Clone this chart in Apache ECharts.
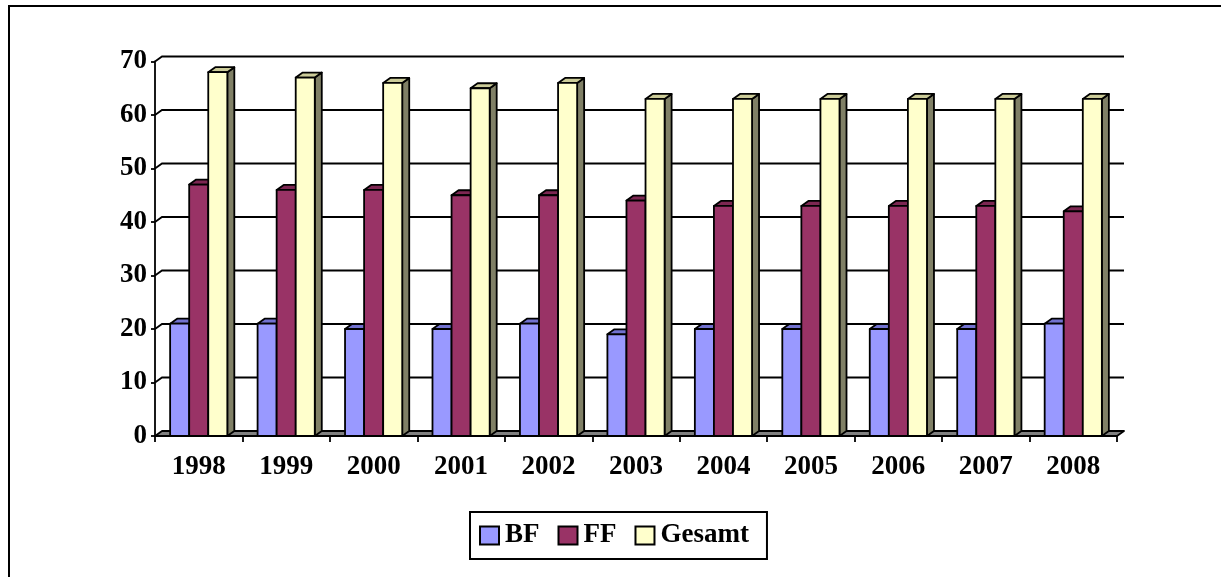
<!DOCTYPE html>
<html>
<head>
<meta charset="utf-8">
<script src="https://cdn.jsdelivr.net/npm/echarts@6/dist/echarts.min.js"></script>
<style>
html,body{margin:0;padding:0;background:#fff;}
#c{width:1221px;height:577px;}
</style>
</head>
<body>
<div id="c"></div>
<script>
const categories = ['1998','1999','2000','2001','2002','2003','2004','2005','2006','2007','2008'];
const bf = [21,21,20,20,21,19,20,20,20,20,21];
const ff = [47,46,46,45,45,44,43,43,43,43,42];
const gesamt = [68,67,66,65,66,63,63,63,63,63,63];
const yTicks = [0,10,20,30,40,50,60,70];

const FONT = 'Liberation Serif';
const DX = 7, DY = -5;
const LW = 1.8;

const seriesDefs = [
  {name:'BF', data:bf, color:'#9999ff', top:'#7272d0', side:'#5f5fb0', k:-1},
  {name:'FF', data:ff, color:'#993366', top:'#7d2752', side:'#6a1f45', k:0},
  {name:'Gesamt', data:gesamt, color:'#ffffcc', top:'#cccc99', side:'#808066', k:1}
];

function barRender(def){
  return function(params, api){
    const idx = params.dataIndex;
    const v = api.value(1);
    const c = api.coord([idx, v]);
    const b = api.coord([idx, 0]);
    const catW = api.size([1,0])[0];
    const w = catW*0.218;
    const xc = c[0] + def.k*w;
    const x0 = xc - w/2, x1 = xc + w/2;
    const yt = c[1], yb = b[1];
    const st = {stroke:'#000', lineWidth:LW, lineJoin:'round'};
    return {type:'group', children:[
      {type:'polygon', shape:{points:[[x1,yt],[x1+DX,yt+DY],[x1+DX,yb+DY],[x1,yb]]}, style:Object.assign({fill:def.side}, st)},
      {type:'polygon', shape:{points:[[x0,yt],[x0+DX,yt+DY],[x1+DX,yt+DY],[x1,yt]]}, style:Object.assign({fill:def.top}, st)},
      {type:'rect', shape:{x:x0, y:yt, width:w, height:yb-yt}, style:Object.assign({fill:def.color}, st)}
    ]};
  };
}

function gridRender(params, api){
  const v = api.value(1);
  const p = api.coord([0, v]);
  const cs = params.coordSys;
  const x0 = cs.x, x1 = cs.x + cs.width;
  const y = p[1];
  if (v === 0) {
    return {type:'polygon', shape:{points:[[x0,y],[x0+DX,y+DY],[x1+DX,y+DY],[x1,y]]},
      style:{fill:'#808080', stroke:'#000', lineWidth:LW, lineJoin:'round'}};
  }
  return {type:'polyline', shape:{points:[[x0,y],[x0+DX,y+DY],[x1+DX,y+DY]]},
    style:{fill:null, stroke:'#000', lineWidth:LW}};
}

const chart = echarts.init(document.getElementById('c'), null, {renderer:'canvas'});
const series = [{
  type:'custom', name:'grid', silent:true, z:1,
  data: yTicks.map(v => [0, v]),
  encode:{x:0, y:1},
  renderItem: gridRender
}];
seriesDefs.forEach((d, i) => {
  series.push({
    type:'custom', name:d.name, z:2+i,
    data: d.data.map((v, j) => [j, v]),
    encode:{x:0, y:1},
    itemStyle:{color:d.color, borderColor:'#000', borderWidth:2},
    renderItem: barRender(d)
  });
});

chart.setOption({
  animation:false,
  graphic:[{type:'rect', shape:{x:9, y:6, width:1300, height:700}, style:{fill:null, stroke:'#000', lineWidth:2}, z:100}],
  grid:{left:155, right:104, top:61.5, bottom:141, containLabel:false},
  legend:{
    data:['BF','FF','Gesamt'],
    left:470, top:512,
    padding:[10,18,10,9],
    itemGap:18, itemWidth:19, itemHeight:18,
    icon:'rect',
    borderColor:'#000', borderWidth:2,
    itemStyle:{borderColor:'#000', borderWidth:2},
    textStyle:{fontFamily:FONT, fontWeight:'bold', fontSize:27, color:'#000', padding:[0,0,0,1]},
    selectedMode:false
  },
  xAxis:{
    type:'category', data:categories, boundaryGap:true,
    axisLine:{lineStyle:{color:'#000', width:LW}},
    axisTick:{show:true, alignWithLabel:false, length:6, lineStyle:{color:'#000', width:LW}},
    axisLabel:{fontFamily:FONT, fontWeight:'bold', fontSize:27, color:'#000', margin:18, interval:0},
    splitLine:{show:false}
  },
  yAxis:{
    type:'value', min:0, max:70, interval:10,
    axisLine:{show:true, lineStyle:{color:'#000', width:LW}},
    axisTick:{show:true, length:4, lineStyle:{color:'#000', width:LW}},
    axisLabel:{fontFamily:FONT, fontWeight:'bold', fontSize:27, color:'#000', margin:8},
    splitLine:{show:false}
  },
  series: series
});
</script>
</body>
</html>
